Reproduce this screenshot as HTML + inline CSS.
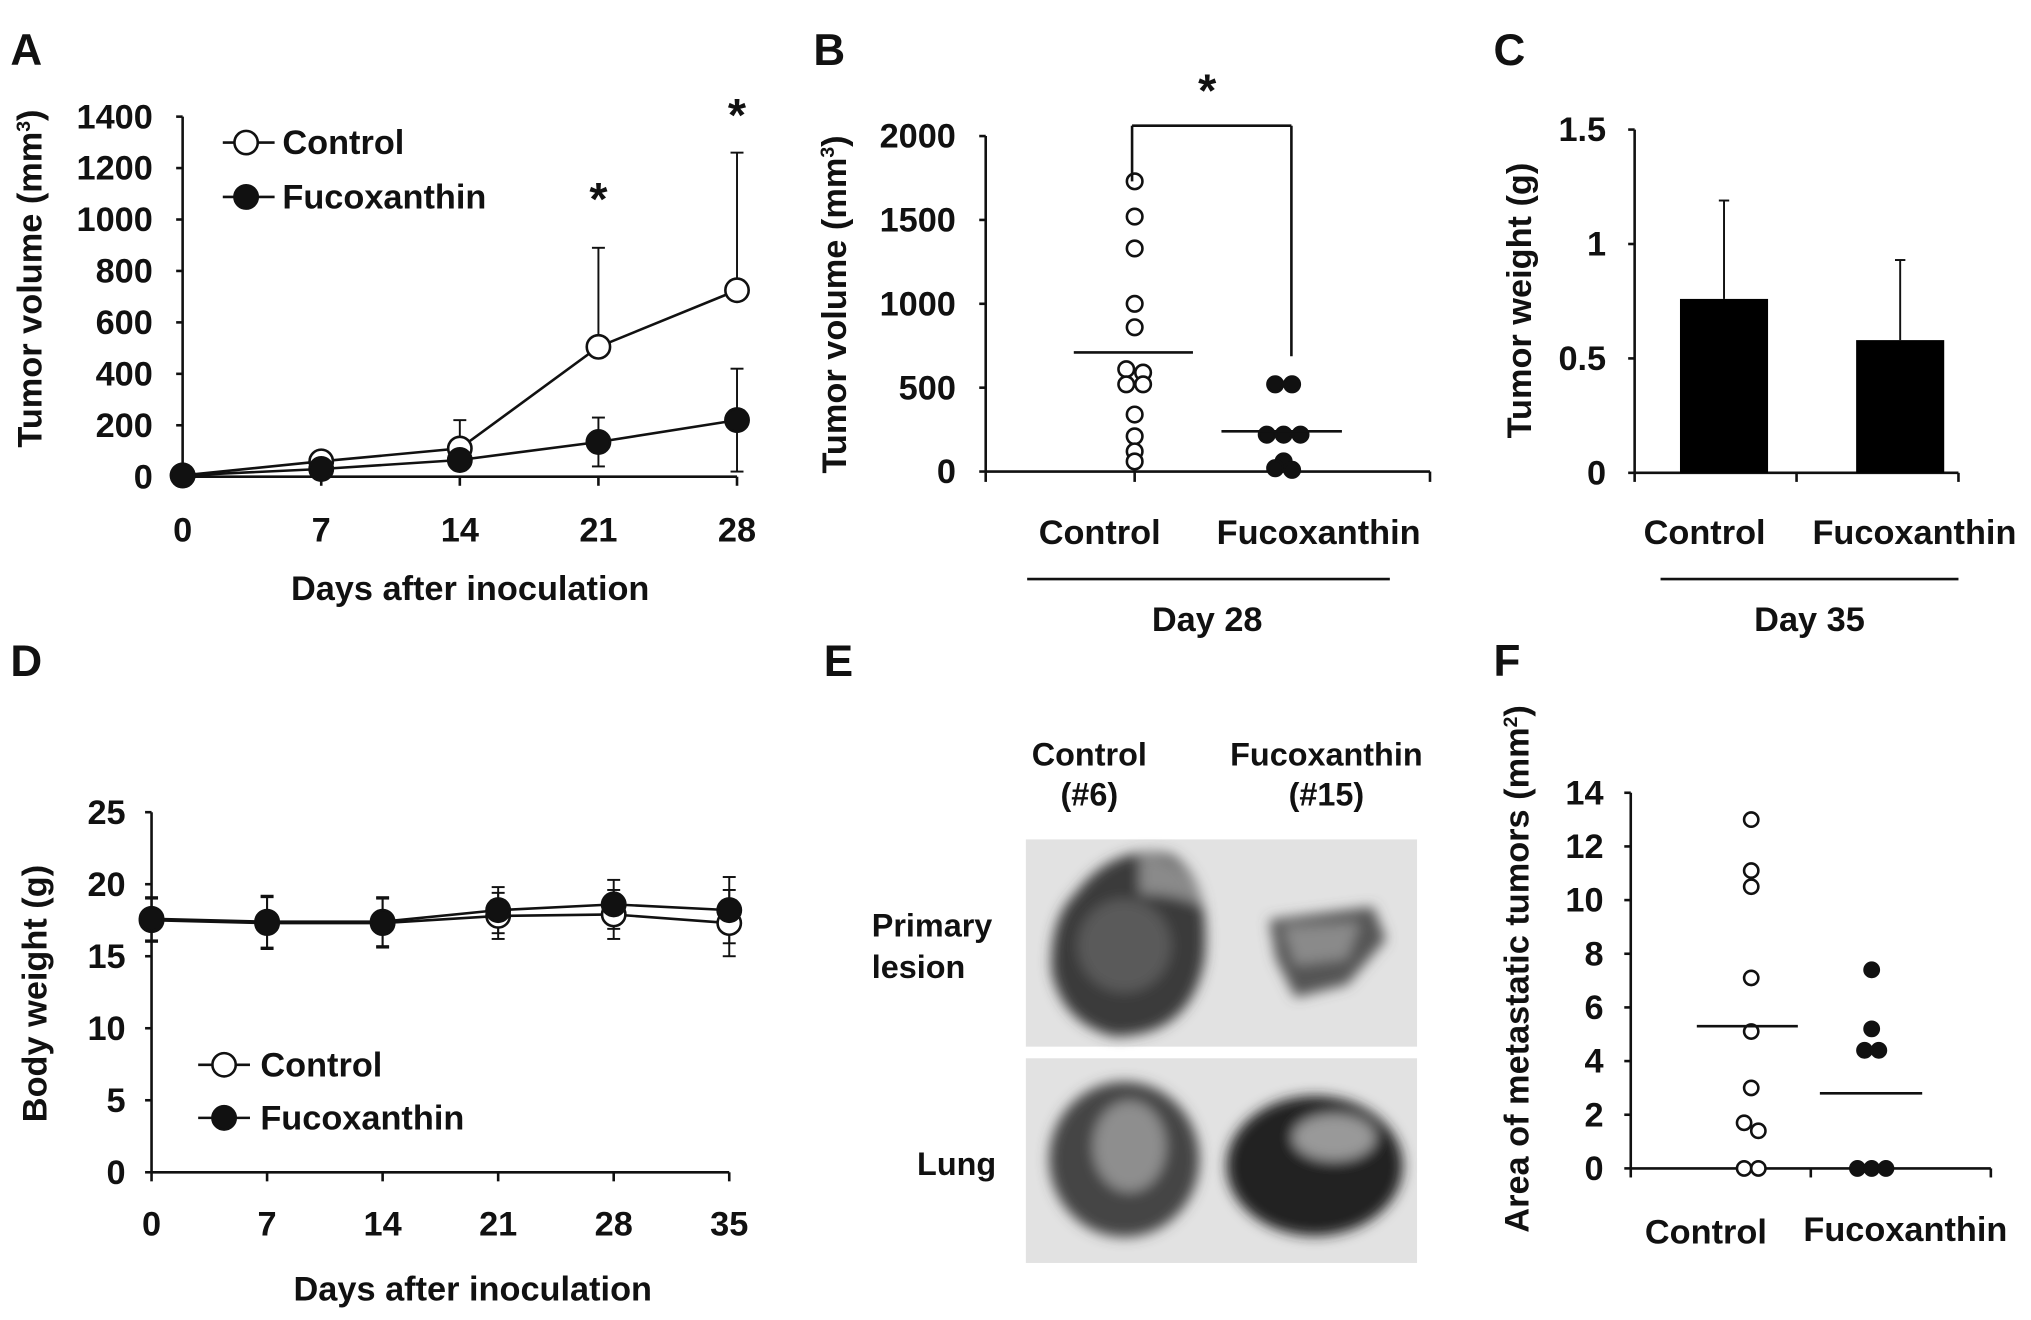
<!DOCTYPE html>
<html><head><meta charset="utf-8"><style>
html,body{margin:0;padding:0;background:#fff}
svg{display:block}
text{font-family:"Liberation Sans",Arial,sans-serif;font-weight:bold;fill:#111}
</style></head><body>
<svg id="fig" width="2031" height="1320" viewBox="0 0 1568 1019" xmlns="http://www.w3.org/2000/svg">
<defs><filter id="blur"><feGaussianBlur stdDeviation="5"/></filter></defs>
<g font-size="34">
<text x="8" y="50">A</text>
<text x="628" y="50">B</text>
<text x="1153" y="50">C</text>
<text x="8" y="522">D</text>
<text x="636" y="522">E</text>
<text x="1153" y="522">F</text>
</g>
<g id="A"></g>
<g id="B"></g>
<g id="C"></g>
<g id="D"></g>
<g id="E">
<text x="841" y="591" font-size="25" text-anchor="middle">Control</text>
<text x="841" y="622" font-size="25" text-anchor="middle">(#6)</text>
<text x="1024" y="591" font-size="25" text-anchor="middle">Fucoxanthin</text>
<text x="1024" y="622" font-size="25" text-anchor="middle">(#15)</text>
<text x="673" y="723" font-size="25">Primary</text>
<text x="673" y="755" font-size="25">lesion</text>
<text x="708" y="907" font-size="25">Lung</text>
<g>
<rect x="792" y="648" width="302" height="160" fill="#e2e2e2"/>
<g filter="url(#blur)">
<path d="M830 690 Q860 650 905 660 Q935 680 930 740 Q920 800 860 800 Q820 790 812 750 Q810 710 830 690Z" fill="#3a3a3a"/>
<path d="M880 660 Q920 660 928 700 Q910 690 880 690Z" fill="#8a8a8a"/>
<ellipse cx="868" cy="730" rx="36" ry="36" fill="#5a5a5a"/>
<path d="M980 710 L1060 700 L1070 725 L1040 760 L1000 770 L985 740Z" fill="#555"/>
<path d="M990 715 L1050 712 L1040 740 L1000 745Z" fill="#8a8a8a"/>
</g></g>
<g>
<rect x="792" y="817" width="302" height="158" fill="#e2e2e2"/>
<g filter="url(#blur)">
<ellipse cx="868" cy="895" rx="58" ry="60" fill="#444"/>
<ellipse cx="872" cy="885" rx="28" ry="35" fill="#8e8e8e"/>
<ellipse cx="1015" cy="900" rx="68" ry="54" fill="#222"/>
<ellipse cx="1030" cy="878" rx="32" ry="18" fill="#999"/>
</g></g>
</g>
<g id="F"></g>
</svg>
<script>
// Panel A data
const aDays=[0,7,14,21,28];
const aControl=[5,60,110,505,725];
const aControlErr=[0,30,110,385,535];
const aFuco=[5,30,65,135,220];
const aFucoErr=[0,20,40,95,200];
// Panel B data
const bControl=[1730,1520,1330,1000,860,610,590,520,520,340,210,120,60];
const bFuco=[520,520,220,220,220,60,20,10];
const bMeans=[710,240];
// Panel C data
const cCats=["Control","Fucoxanthin"];
const cMeans=[0.76,0.58];
const cErr=[0.43,0.35];
// Panel D data
const dDays=[0,7,14,21,28,35];
const dControl=[17.5,17.3,17.3,17.8,17.9,17.3];
const dFuco=[17.6,17.4,17.4,18.2,18.6,18.2];
const dErr=[1.5,1.8,1.7,1.6,1.7,2.3];
// Panel F data
const fControl=[13,11.1,10.5,7.1,5.1,3,1.7,1.4,0,0];
const fFuco=[7.4,5.2,4.4,4.4,0,0,0];
const fMeans=[5.3,2.8];

const FS=26.5;
const NS="http://www.w3.org/2000/svg";
function el(p,tag,a,txt){const e=document.createElementNS(NS,tag);for(const k in a)e.setAttribute(k,a[k]);if(txt!==undefined)e.textContent=txt;p.appendChild(e);return e;}
function line(p,x1,y1,x2,y2,w,name){const e=el(p,"line",{x1,y1,x2,y2,stroke:"#111","stroke-width":w||2});

return e;}
function txt(p,x,y,s,size,anchor,name,rot){const a={x,y,"font-size":size,"text-anchor":anchor||"middle"};if(rot)a.transform=rot;const e=el(p,"text",a,s);

return e;}
function circ(p,x,y,r,filled,name){const e=el(p,"circle",{cx:x,cy:y,r,fill:filled?"#111":"#fff",stroke:"#111","stroke-width":2});

return e;}

// ---- A ----
(function(){const g=document.getElementById("A");
const X=d=>141+d*(569-141)/28, Y=v=>368-v*(368-90)/1400;
line(g,141,90,141,368);line(g,141,368,569,368);
for(let v=0;v<=1400;v+=200){line(g,136,Y(v),141,Y(v),2,'y-tick');txt(g,118,Y(v)+9,String(v),FS,"end",'y-tick-label');}
aDays.forEach(d=>{line(g,X(d),368,X(d),375,2,'x-tick');txt(g,X(d),418,String(d),FS,"middle",'x-tick-label');});
txt(g,363,463,"Days after inoculation",FS,"middle",'x-axis-title');
const t=txt(g,0,0,"",FS,"middle",'y-axis-title',"translate(32,215) rotate(-90)");t.innerHTML='Tumor volume (mm<tspan dy="-9" font-size="15">3</tspan><tspan dy="9">)</tspan>';
aDays.forEach((d,i)=>{ if(aControlErr[i]>0){line(g,X(d),Y(aControl[i]),X(d),Y(aControl[i]+aControlErr[i]),1.5,'control-error-bar');line(g,X(d)-5,Y(aControl[i]+aControlErr[i]),X(d)+5,Y(aControl[i]+aControlErr[i]),1.5,'control-error-cap');}
 if(aFucoErr[i]>0){line(g,X(d),Y(aFuco[i]-aFucoErr[i]),X(d),Y(aFuco[i]+aFucoErr[i]),1.5,'fucoxanthin-error-bar');[aFuco[i]-aFucoErr[i],aFuco[i]+aFucoErr[i]].forEach(v=>line(g,X(d)-5,Y(v),X(d)+5,Y(v),1.5,'fucoxanthin-error-cap'));}});
el(g,"polyline",{points:aDays.map((d,i)=>X(d)+","+Y(aControl[i])).join(" "),fill:"none",stroke:"#111","stroke-width":2});
el(g,"polyline",{points:aDays.map((d,i)=>X(d)+","+Y(aFuco[i])).join(" "),fill:"none",stroke:"#111","stroke-width":2});
aDays.forEach((d,i)=>circ(g,X(d),Y(aControl[i]),9,false,'control-point'));
aDays.forEach((d,i)=>circ(g,X(d),Y(aFuco[i]),9,true,'fucoxanthin-point'));
txt(g,X(21),166,"*",36,"middle",'significance-star');txt(g,X(28),101,"*",36,"middle",'significance-star');
line(g,172,110,212,110,2,'legend-line');circ(g,190,110,9,false,'legend-control-marker');txt(g,218,119,"Control",FS,"start",'legend-control');
line(g,172,152,212,152,2,'legend-line');circ(g,190,152,9,true,'legend-fucoxanthin-marker');txt(g,218,161,"Fucoxanthin",FS,"start",'legend-fucoxanthin');
})();

// ---- B ----
(function(){const g=document.getElementById("B");
const Y=v=>364-v*(364-105)/2000; const cx=[876,991];
line(g,761,105,761,364);line(g,761,364,1104,364);
for(let v=0;v<=2000;v+=500){line(g,756,Y(v),761,Y(v),2,'y-tick');txt(g,738,Y(v)+9,String(v),FS,"end",'y-tick-label');}
[761,876,1104].forEach(x=>line(g,x,364,x,372,2,'x-tick'));
const t=txt(g,0,0,"",FS,"middle",'y-axis-title',"translate(653,235) rotate(-90)");t.innerHTML='Tumor volume (mm<tspan dy="-9" font-size="15">3</tspan><tspan dy="9">)</tspan>';
function place(vals,c,filled,name){const cnt={};vals.forEach(v=>{const k=Math.round(v/60);cnt[k]=(cnt[k]||0)+1;});const used={};
vals.forEach(v=>{const k=Math.round(v/60);const n=cnt[k];used[k]=(used[k]||0);const off=(used[k]-(n-1)/2)*13;used[k]++;circ(g,c+off,Y(v),6,filled,name);});}
place(bControl,cx[0],false,'control-point');place(bFuco,cx[1],true,'fucoxanthin-point');
line(g,cx[0]-47,Y(bMeans[0]),cx[0]+45,Y(bMeans[0]),2,'control-mean-line');
line(g,cx[1]-48,Y(bMeans[1]),cx[1]+45,Y(bMeans[1]),2,'fucoxanthin-mean-line');
line(g,874,140,874,97,2,'significance-bracket');line(g,874,97,997,97,2,'significance-bracket');line(g,997,97,997,275,2,'significance-bracket');
txt(g,932,82,"*",36,"middle",'significance-star');
txt(g,849,420,"Control",FS,"middle",'category-label');txt(g,1018,420,"Fucoxanthin",FS,"middle",'category-label');
line(g,793,447,1073,447,2,'group-bracket');txt(g,932,487,"Day 28",FS,"middle",'group-label');
})();

// ---- C ----
(function(){const g=document.getElementById("C");
const Y=v=>365-v*(365-100)/1.5; const cx=[1331,1467];
line(g,1262,100,1262,365);line(g,1262,365,1512,365);
[0,0.5,1,1.5].forEach(v=>{line(g,1257,Y(v),1262,Y(v),2,'y-tick');txt(g,1240,Y(v)+9,String(v),FS,"end",'y-tick-label');});
[1262,1387,1512].forEach(x=>line(g,x,365,x,372,2,'x-tick'));
txt(g,0,0,"Tumor weight (g)",FS,"middle",'y-axis-title',"translate(1182,232) rotate(-90)");
cMeans.forEach((m,i)=>{const r=el(g,"rect",{x:cx[i]-34,y:Y(m),width:68,height:365-Y(m),fill:"#000"});


line(g,cx[i],Y(m),cx[i],Y(m+cErr[i]),1.5,'error-bar');line(g,cx[i]-4,Y(m+cErr[i]),cx[i]+4,Y(m+cErr[i]),1.5,'error-cap');});
txt(g,1316,420,"Control",FS,"middle",'category-label');txt(g,1478,420,"Fucoxanthin",FS,"middle",'category-label');
line(g,1282,447,1512,447,2,'group-bracket');txt(g,1397,487,"Day 35",FS,"middle",'group-label');
})();

// ---- D ----
(function(){const g=document.getElementById("D");
const X=d=>117+d*(563-117)/35, Y=v=>905-v*(905-627)/25;
line(g,117,627,117,905);line(g,117,905,563,905);
for(let v=0;v<=25;v+=5){line(g,112,Y(v),117,Y(v),2,'y-tick');txt(g,97,Y(v)+9,String(v),FS,"end",'y-tick-label');}
dDays.forEach(d=>{line(g,X(d),905,X(d),912,2,'x-tick');txt(g,X(d),954,String(d),FS,"middle",'x-tick-label');});
txt(g,365,1004,"Days after inoculation",FS,"middle",'x-axis-title');
txt(g,0,0,"Body weight (g)",FS,"middle",'y-axis-title',"translate(36,767) rotate(-90)");
dDays.forEach((d,i)=>{[dControl[i],dFuco[i]].forEach(m=>{line(g,X(d),Y(m-dErr[i]),X(d),Y(m+dErr[i]),1.5,'error-bar');[m-dErr[i],m+dErr[i]].forEach(v=>line(g,X(d)-5,Y(v),X(d)+5,Y(v),1.5,'error-cap'));});});
el(g,"polyline",{points:dDays.map((d,i)=>X(d)+","+Y(dControl[i])).join(" "),fill:"none",stroke:"#111","stroke-width":2});
el(g,"polyline",{points:dDays.map((d,i)=>X(d)+","+Y(dFuco[i])).join(" "),fill:"none",stroke:"#111","stroke-width":2});
dDays.forEach((d,i)=>circ(g,X(d),Y(dControl[i]),9,false,'control-point'));
dDays.forEach((d,i)=>circ(g,X(d),Y(dFuco[i]),9,true,'fucoxanthin-point'));
line(g,153,822,193,822,2,'legend-line');circ(g,173,822,9,false,'legend-control-marker');txt(g,201,831,"Control",FS,"start",'legend-control');
line(g,153,863,193,863,2,'legend-line');circ(g,173,863,9,true,'legend-fucoxanthin-marker');txt(g,201,872,"Fucoxanthin",FS,"start",'legend-fucoxanthin');
})();

// ---- F ----
(function(){const g=document.getElementById("F");
const Y=v=>902-v*(902-612)/14; const cx=[1352,1445];
line(g,1259,612,1259,902);line(g,1259,902,1537,902);
for(let v=0;v<=14;v+=2){line(g,1254,Y(v),1259,Y(v),2,'y-tick');txt(g,1238,Y(v)+9,String(v),FS,"end",'y-tick-label');}
[1259,1398,1537].forEach(x=>line(g,x,902,x,909,2,'x-tick'));
const t=txt(g,0,0,"",FS,"middle",'y-axis-title',"translate(1180,748) rotate(-90)");t.innerHTML='Area of metastatic tumors (mm<tspan dy="-9" font-size="15">2</tspan><tspan dy="9">)</tspan>';
function place(vals,c,filled,name){const cnt={};vals.forEach(v=>{const k=Math.round(v/0.5);cnt[k]=(cnt[k]||0)+1;});const used={};
vals.forEach(v=>{const k=Math.round(v/0.5);const n=cnt[k];used[k]=(used[k]||0);const off=(used[k]-(n-1)/2)*11;used[k]++;circ(g,c+off,Y(v),5.5,filled,name);});}
place(fControl,cx[0],false,'control-point');place(fFuco,cx[1],true,'fucoxanthin-point');
line(g,1310,Y(fMeans[0]),1388,Y(fMeans[0]),2,'control-mean-line');
line(g,1405,Y(fMeans[1]),1484,Y(fMeans[1]),2,'fucoxanthin-mean-line');
txt(g,1317,960,"Control",FS,"middle",'category-label');txt(g,1471,958,"Fucoxanthin",FS,"middle",'category-label');
})();
</script>
</body></html>
